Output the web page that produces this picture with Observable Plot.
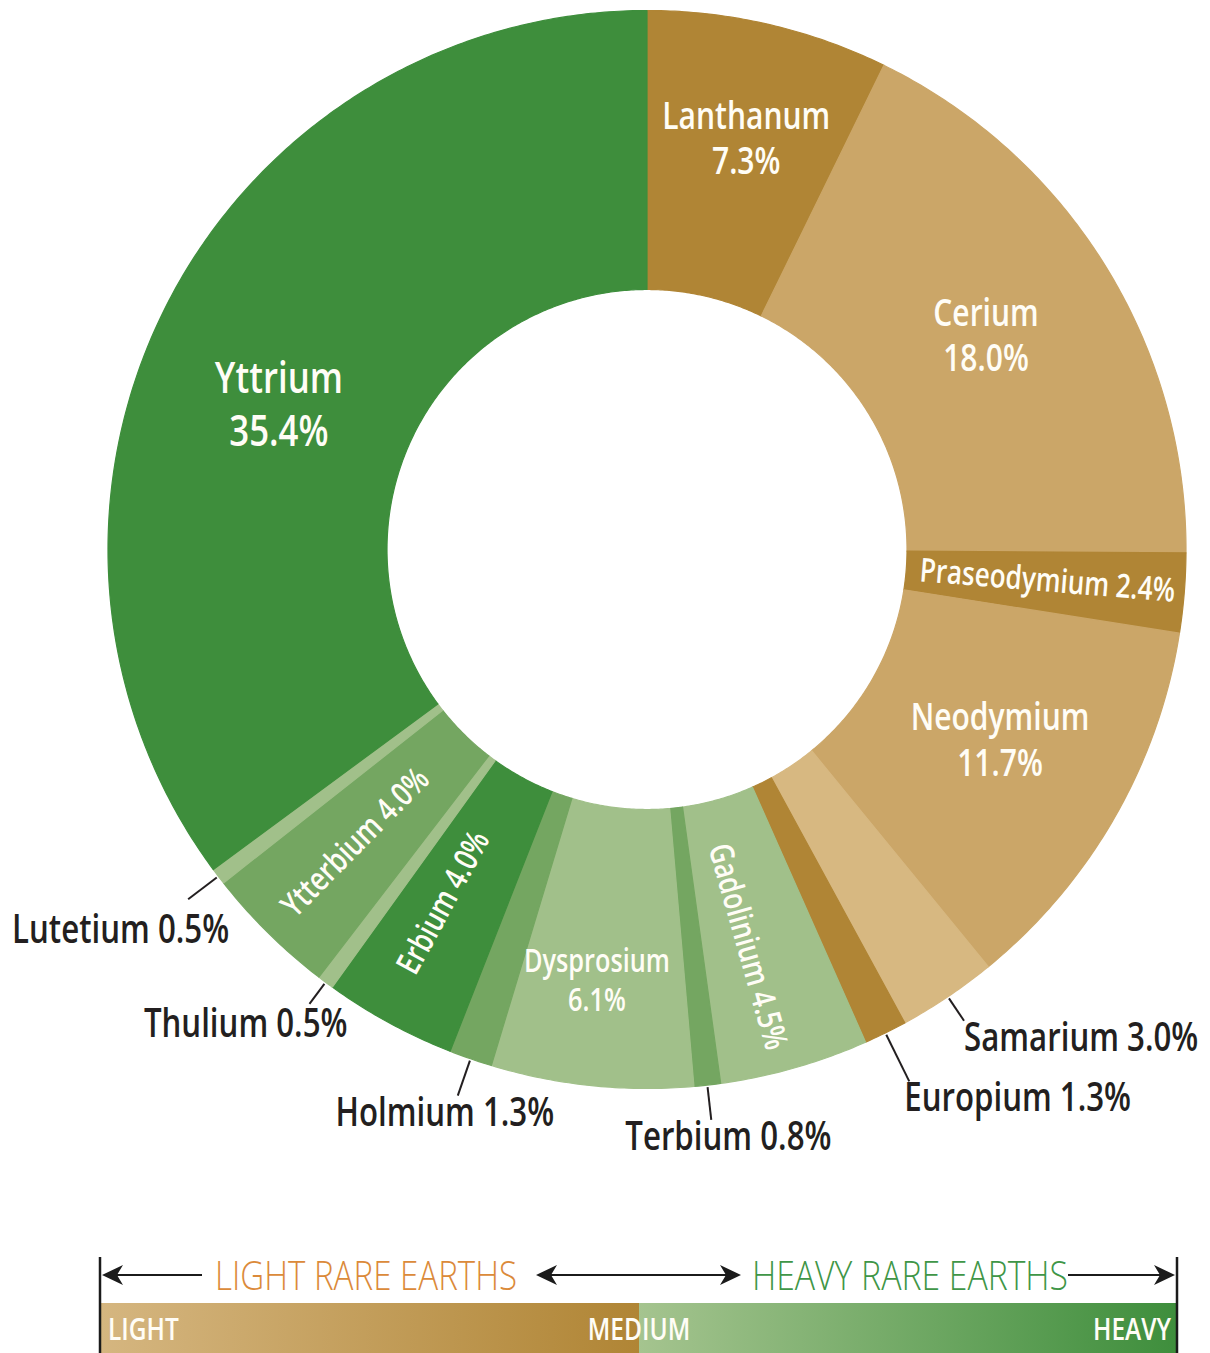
<!DOCTYPE html>
<html>
<head>
<meta charset="utf-8">
<script src="https://cdn.jsdelivr.net/npm/d3@7"></script>
<script src="https://cdn.jsdelivr.net/npm/@observablehq/plot@0.6"></script>
<style>
  html, body { margin: 0; padding: 0; background: #fff; }
  #chart svg { display: block; }
  #legend { position: relative; width: 1210px; height: 153px; overflow: hidden; }
  #legend svg { position: absolute; left: 0; top: 0; }
</style>
</head>
<body>
<div id="chart"></div>
<div id="legend"></div>
<script>
// ---- data ----
const elements = ["Lanthanum","Cerium","Praseodymium","Neodymium","Samarium","Europium","Gadolinium","Terbium","Dysprosium","Holmium","Erbium","Thulium","Ytterbium","Lutetium","Yttrium"];
const shares   = [7.3, 18.0, 2.4, 11.7, 3.0, 1.3, 4.5, 0.8, 6.1, 1.3, 4.0, 0.5, 4.0, 0.5, 35.4];
const tones    = ["gold-dark","gold","gold-dark","gold","gold-light","gold-dark","green-light","green-mid","green-light","green-mid","green-dark","green-light","green-mid","green-light","green-dark"];
const legendGroups = ["LIGHT RARE EARTHS", "HEAVY RARE EARTHS"];
const legendSteps  = ["LIGHT", "MEDIUM", "HEAVY"];

// ---- styling / layout (kept separate from data) ----
const toneDomain = ["gold-dark","gold","gold-light","green-light","green-mid","green-dark"];
const toneRange  = ["#B08535","#CBA668","#D7B881","#A1C08A","#74A661","#3E8E3C"];
const FONT = '"Open Sans","Noto Sans",Roboto,sans-serif';
const WEIGHT = 650;
const W = 1210, H = 1200;
const PX = 539;               // pixels per radius unit
const CX = 646.5, CY = 549;   // centre of the ring in pixels
const R_OUT = 1, R_IN = 260 / PX, R_LABEL = 400 / PX;
const OUT = 39.5;             // font size of the outside labels

const layout = {
  Lanthanum:    {mode: "block",   size: 38, dx: 9,   dy: -23},
  Cerium:       {mode: "block",   size: 38, dx: -1,  dy: -5},
  Praseodymium: {mode: "radial",  size: 33, dx: 2,   dy: -3},
  Neodymium:    {mode: "block",   size: 38, dx: 6,   dy: -10},
  Samarium:     {mode: "outside", size: OUT, len: 27, anchor: "start",  dx: 0,   dy: 18},
  Europium:     {mode: "outside", size: OUT, len: 52, anchor: "start",  dx: -5,  dy: 17},
  Gadolinium:   {mode: "radial",  size: 33, dx: -7,  dy: 12},
  Terbium:      {mode: "outside", size: OUT, len: 33, anchor: "start",  dx: -86, dy: 17},
  Dysprosium:   {mode: "block",   size: 32, dx: -9,  dy: 32},
  Holmium:      {mode: "outside", size: OUT, len: 37, anchor: "middle", dx: -13, dy: 18},
  Erbium:       {mode: "radial",  size: 33, dx: -14, dy: 1},
  Thulium:      {mode: "outside", size: OUT, len: 25, anchor: "end",    dx: 38,  dy: 21},
  Ytterbium:    {mode: "radial",  size: 33, dx: -12, dy: 7},
  Lutetium:     {mode: "outside", size: OUT, len: 36, anchor: "end",    dx: 41,  dy: 31},
  Yttrium:      {mode: "block",   size: 44, dx: -11, dy: 33}
};

// ---- geometry derived from the data ----
const total = d3.sum(shares);
let acc = 0;
const slices = elements.map((name, i) => {
  const a0 = acc / total * 2 * Math.PI;
  acc += shares[i];
  const a1 = acc / total * 2 * Math.PI;
  return {name, share: shares[i], tone: tones[i], a0, a1, mid: (a0 + a1) / 2};
});
const pt = (a, r) => [r * Math.sin(a), -r * Math.cos(a)];

const ring = slices.flatMap(s => {
  const n = Math.max(2, Math.ceil((s.a1 - s.a0) / (Math.PI / 360)));
  const outer = d3.range(n + 1).map(k => pt(s.a0 + (s.a1 - s.a0) * k / n, R_OUT));
  const inner = d3.range(n + 1).map(k => pt(s.a1 - (s.a1 - s.a0) * k / n, R_IN));
  return [...outer, ...inner, outer[0]].map(([x, y]) => ({name: s.name, tone: s.tone, x, y}));
});

const labels = slices.map(s => {
  const L = layout[s.name];
  const pct = s.share.toFixed(1) + "%";
  if (L.mode === "outside") {
    const [x1, y1] = pt(s.mid, R_OUT + 2 / PX);
    const [x2, y2] = pt(s.mid, R_OUT + (2 + L.len) / PX);
    return {...s, ...L, x1, y1, x2, y2, tx: x2 + L.dx / PX, ty: y2 + L.dy / PX, text: `${s.name} ${pct}`, rotate: 0};
  }
  const [x, y] = pt(s.mid, R_LABEL);
  const deg = s.mid * 180 / Math.PI;
  const rotate = L.mode === "radial" ? (deg < 180 ? deg - 90 : deg - 270) : 0;
  const text = L.mode === "block" ? `${s.name}\n${pct}` : `${s.name} ${pct}`;
  return {...s, ...L, tx: x + L.dx / PX, ty: y + L.dy / PX, text, rotate};
});
const inside = labels.filter(d => d.mode !== "outside");
const outside = labels.filter(d => d.mode === "outside");

const chart = Plot.plot({
  width: W, height: H, margin: 0,
  x: {domain: [-CX / PX, (W - CX) / PX], range: [0, W], axis: null},
  y: {domain: [-CY / PX, (H - CY) / PX], range: [0, H], axis: null},
  color: {type: "ordinal", domain: toneDomain, range: toneRange},
  style: {background: "#fff", fontFamily: FONT},
  marks: [
    Plot.line(ring, {x: "x", y: "y", z: "name", fill: "tone", stroke: "tone", strokeWidth: 1.2, curve: "linear", strokeLinejoin: "round"}),
    Plot.link(outside, {x1: "x1", y1: "y1", x2: "x2", y2: "y2", stroke: "#231F20", strokeWidth: 2}),
    Plot.text(inside, {x: "tx", y: "ty", text: "text", rotate: d => d.rotate, fontSize: d => d.size, fill: "#FFFDF6", fontWeight: WEIGHT, lineHeight: 1.2, textAnchor: "middle"}),
    Plot.text(outside.filter(d => d.anchor === "start"), {x: "tx", y: "ty", text: "text", fontSize: d => d.size, fill: "#231F20", fontWeight: WEIGHT, textAnchor: "start"}),
    Plot.text(outside.filter(d => d.anchor === "end"), {x: "tx", y: "ty", text: "text", fontSize: d => d.size, fill: "#231F20", fontWeight: WEIGHT, textAnchor: "end"}),
    Plot.text(outside.filter(d => d.anchor === "middle"), {x: "tx", y: "ty", text: "text", fontSize: d => d.size, fill: "#231F20", fontWeight: WEIGHT, textAnchor: "middle"})
  ]
});
document.getElementById("chart").append(chart);

// ---- legend below the chart ----
const lg = d3.select("#legend").append("svg").attr("width", W).attr("height", 153)
  .style("font-family", FONT);
const defs = lg.append("defs");
const grad = (id, c0, c1) => {
  const g = defs.append("linearGradient").attr("id", id);
  g.append("stop").attr("offset", "0%").attr("stop-color", c0);
  g.append("stop").attr("offset", "100%").attr("stop-color", c1);
};
grad("gLight", "#D5B680", "#B08535");
grad("gHeavy", "#A5C48F", "#3E8E3C");
lg.append("rect").attr("x", 100).attr("y", 103).attr("width", 539).attr("height", 50).attr("fill", "url(#gLight)");
lg.append("rect").attr("x", 639).attr("y", 103).attr("width", 538).attr("height", 50).attr("fill", "url(#gHeavy)");
lg.append("line").attr("x1", 100).attr("x2", 100).attr("y1", 57).attr("y2", 153).attr("stroke", "#1b1b1b").attr("stroke-width", 2.5);
lg.append("line").attr("x1", 1177).attr("x2", 1177).attr("y1", 57).attr("y2", 153).attr("stroke", "#1b1b1b").attr("stroke-width", 2.5);

const arrowY = 75;
const head = (tip, dir) => {
  const p = [[tip, arrowY], [tip - dir * 21, arrowY - 10], [tip - dir * 15, arrowY], [tip - dir * 21, arrowY + 10]];
  lg.append("polygon").attr("points", p.map(q => q.join(",")).join(" ")).attr("fill", "#1b1b1b");
};
const shaft = (a, b) => lg.append("line").attr("x1", a).attr("x2", b).attr("y1", arrowY).attr("y2", arrowY).attr("stroke", "#1b1b1b").attr("stroke-width", 2.2);
shaft(106, 202); head(102, -1);
shaft(540, 736); head(536, -1); head(741, 1);
shaft(1068, 1170); head(1175, 1);

lg.append("text").attr("x", 215).attr("y", arrowY + 15).attr("font-size", 41).attr("font-weight", 300).attr("fill", "#DB8A3A")
  .attr("textLength", 302).attr("lengthAdjust", "spacingAndGlyphs").text(legendGroups[0]);
lg.append("text").attr("x", 752).attr("y", arrowY + 15).attr("font-size", 41).attr("font-weight", 300).attr("fill", "#3F9647")
  .attr("textLength", 316).attr("lengthAdjust", "spacingAndGlyphs").text(legendGroups[1]);

const stepX = [108, 639, 1171], stepAnchor = ["start", "middle", "end"];
legendSteps.forEach((t, i) => {
  lg.append("text").attr("class", "cond").attr("x", stepX[i]).attr("y", 140).attr("font-size", 31).attr("font-weight", WEIGHT)
    .attr("fill", "#FFFDF6").attr("text-anchor", stepAnchor[i]).text(t);
});

// ---- condensed lettering: the reference face is a narrow sans, so squeeze glyphs horizontally ----
function measure(str, size) {
  const t = lg.append("text").attr("font-size", size).attr("font-weight", WEIGHT).text(str);
  const w = t.node().getComputedTextLength();
  t.remove();
  return w;
}
const K = 168 / measure("Lanthanum", 38);   // reference width of the 38px "Lanthanum" label
function condense(nodes) {
  nodes.forEach(t => {
    const parts = t.querySelectorAll("tspan");
    (parts.length ? Array.from(parts) : [t]).forEach(el => {
      const len = el.getComputedTextLength();
      if (len > 0) {
        el.setAttribute("textLength", (len * K).toFixed(1));
        el.setAttribute("lengthAdjust", "spacingAndGlyphs");
      }
    });
  });
}
condense(Array.from(chart.querySelectorAll("text")));
condense(Array.from(lg.node().querySelectorAll("text.cond")));
</script>
</body>
</html>
